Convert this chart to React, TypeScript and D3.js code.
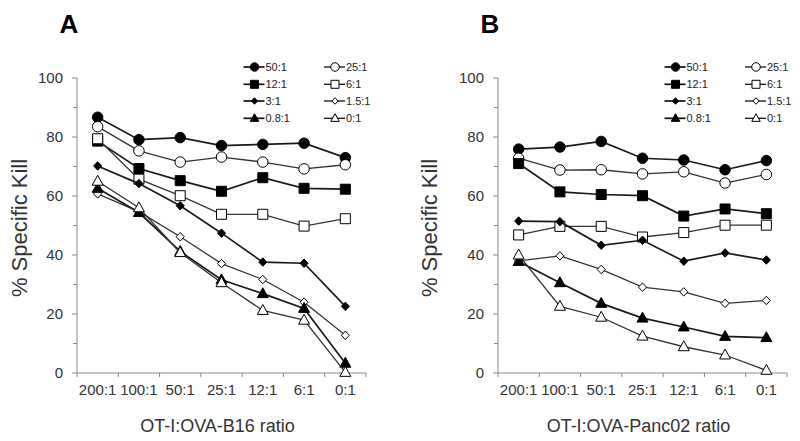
import React from "react";
import * as d3 from "d3";

const categories = ["200:1", "100:1", "50:1", "25:1", "12:1", "6:1", "0:1"];
const seriesNames = ["50:1", "25:1", "12:1", "6:1", "3:1", "1.5:1", "0.8:1", "0:1"];
const yTicks = [0, 20, 40, 60, 80, 100];

// Panel A: OT-I:OVA-B16
const a50 = [86.7, 79.1, 79.8, 77.1, 77.5, 77.9, 73.0];
const a25 = [83.5, 75.3, 71.5, 73.2, 71.5, 69.2, 70.6];
const a12 = [78.6, 69.3, 65.2, 61.6, 66.2, 62.6, 62.3];
const a6 = [79.4, 65.7, 60.1, 53.8, 53.8, 49.8, 52.3];
const a3 = [70.2, 64.2, 56.7, 47.4, 37.6, 37.2, 22.6];
const a15 = [60.7, 54.7, 46.2, 37.1, 31.7, 24.0, 12.8];
const a08 = [62.6, 54.4, 41.2, 31.6, 26.9, 21.9, 3.3];
const a0 = [65.0, 56.0, 40.8, 30.6, 21.2, 17.9, 0.2];

// Panel B: OT-I:OVA-Panc02
const b50 = [75.9, 76.6, 78.5, 72.8, 72.2, 68.9, 72.0];
const b25 = [72.8, 68.8, 68.9, 67.5, 68.2, 64.4, 67.3];
const b12 = [71.0, 61.4, 60.5, 60.1, 53.2, 55.6, 54.0];
const b6 = [46.8, 49.7, 49.7, 46.1, 47.6, 50.1, 50.1];
const b3 = [51.5, 51.3, 43.3, 45.0, 37.9, 40.7, 38.3];
const b15 = [38.0, 39.7, 35.1, 29.1, 27.5, 23.6, 24.6];
const b08 = [37.8, 30.6, 23.6, 18.6, 15.6, 12.4, 12.0];
const b0 = [40.0, 22.6, 18.9, 12.5, 8.9, 6.1, 0.9];

const panelAData = [a50, a25, a12, a6, a3, a15, a08, a0];
const panelBData = [b50, b25, b12, b6, b3, b15, b08, b0];

type Shape = "circle" | "square" | "diamond" | "triangle";
const shapes: Shape[] = ["circle", "circle", "square", "square", "diamond", "diamond", "triangle", "triangle"];
const filled = [true, false, true, false, true, false, true, false];

function markerPath(shape: Shape, cx: number, cy: number, s: number): string {
  const h = s / 2;
  if (shape === "circle") {
    const p = d3.path();
    p.moveTo(cx + h, cy);
    p.arc(cx, cy, h, 0, Math.PI * 2);
    p.closePath();
    return p.toString();
  }
  if (shape === "square") {
    return `M${cx - h},${cy - h}H${cx + h}V${cy + h}H${cx - h}Z`;
  }
  if (shape === "diamond") {
    const hw = h * 0.95;
    const hh = h;
    return `M${cx},${cy - hh}L${cx + hw},${cy}L${cx},${cy + hh}L${cx - hw},${cy}Z`;
  }
  const th = s * 0.9;
  return `M${cx},${cy - th * 0.6}L${cx + h},${cy + th * 0.4}L${cx - h},${cy + th * 0.4}Z`;
}

const mainSize: Record<Shape, number> = { circle: 10.5, square: 10, diamond: 8.5, triangle: 11 };
const legendSize: Record<Shape, number> = { circle: 8.5, square: 8, diamond: 6.5, triangle: 8.5 };

const FONT = "Arial, 'Liberation Sans', sans-serif";

function Panel({
  x0,
  title,
  data,
  xTitle,
  yLabelOffset,
}: {
  x0: number;
  title: string;
  data: number[][];
  xTitle: string;
  yLabelOffset: number;
}) {
  const width = 289;
  const x = d3.scaleBand<string>().domain(categories).range([x0, x0 + width]).padding(0);
  const y = d3.scaleLinear().domain([0, 100]).range([373, 78]);
  const bw = x.bandwidth();
  const cx = (c: string) => (x(c) as number) + bw / 2;
  const line = d3
    .line<[string, number]>()
    .x((d) => cx(d[0]))
    .y((d) => y(d[1]));
  const minor = d3.range(10, 100, 20);
  const boundaries = categories.map((c) => x(c) as number).concat([x0 + width]);
  const leg1 = x0 + 166.5;
  const leg2 = x0 + 247;
  const legRows = [67, 84.3, 101, 118.3];

  return (
    <g>
      <text x={x0 - 8} y={33} fontFamily={FONT} fontWeight="bold" fontSize={26} textAnchor="middle" fill="#000">
        {title}
      </text>
      <line x1={x0} x2={x0} y1={y(100)} y2={y(0)} stroke="#888" strokeWidth={1} />
      {yTicks.map((t) => (
        <g key={"yt" + t}>
          <line x1={x0 - 5} x2={x0} y1={y(t)} y2={y(t)} stroke="#888" strokeWidth={1} />
          <text x={x0 - 14} y={y(t)} dy="0.35em" textAnchor="end" fontFamily={FONT} fontSize={15} fill="#333">
            {t}
          </text>
        </g>
      ))}
      {minor.map((t) => (
        <line key={"ym" + t} x1={x0 - 4} x2={x0} y1={y(t)} y2={y(t)} stroke="#888" strokeWidth={1} />
      ))}
      <line x1={x0} x2={x0 + width} y1={y(0)} y2={y(0)} stroke="#888" strokeWidth={1} />
      {boundaries.map((b, i) => (
        <line key={"xb" + i} x1={b} x2={b} y1={y(0)} y2={y(0) + 4} stroke="#888" strokeWidth={1} />
      ))}
      {categories.map((c) => (
        <text key={"xl" + c} x={cx(c)} y={395} textAnchor="middle" fontFamily={FONT} fontSize={15} fill="#333">
          {c}
        </text>
      ))}
      <text x={x0 + width / 2 - 4} y={432} textAnchor="middle" fontFamily={FONT} fontSize={18} fill="#333">
        {xTitle}
      </text>
      <text
        transform={`translate(${x0 - yLabelOffset},228) rotate(-90)`}
        textAnchor="middle"
        fontFamily={FONT}
        fontSize={22}
        fill="#333"
      >
        % Specific Kill
      </text>
      {data.map((vals, si) => {
        const pts = categories.map((c, i) => [c, vals[i]] as [string, number]);
        const isFilled = filled[si];
        return (
          <g key={"s" + si}>
            <path d={line(pts) || ""} fill="none" stroke={isFilled ? "#1a1a1a" : "#333"} strokeWidth={isFilled ? 1.7 : 1.3} />
            {pts.map((p, i) => (
              <path
                key={i}
                d={markerPath(shapes[si], cx(p[0]), y(p[1]), mainSize[shapes[si]])}
                fill={isFilled ? "#000" : "#fff"}
                stroke="#000"
                strokeWidth={1}
              />
            ))}
          </g>
        );
      })}
      {seriesNames.map((name, si) => {
        const col = si % 2;
        const row = Math.floor(si / 2);
        const lx = col === 0 ? leg1 : leg2;
        const ly = legRows[row];
        const isFilled = filled[si];
        return (
          <g key={"lg" + si}>
            <line x1={lx} x2={lx + 21} y1={ly} y2={ly} stroke="#111" strokeWidth={isFilled ? 1.7 : 1.3} />
            <path
              d={markerPath(shapes[si], lx + 11, ly, legendSize[shapes[si]])}
              fill={isFilled ? "#000" : "#fff"}
              stroke="#000"
              strokeWidth={1}
            />
            <text x={lx + 22} y={ly} dy="0.36em" fontFamily={FONT} fontSize={11} fill="#222">
              {name}
            </text>
          </g>
        );
      })}
    </g>
  );
}

export default function App() {
  return (
    <svg
      width={800}
      height={441}
      viewBox="0 0 800 441"
      style={{ position: "absolute", left: 0, top: 0, background: "#fff" }}
    >
      <rect x={0} y={0} width={800} height={441} fill="#fff" />
      <Panel x0={77} title="A" data={panelAData} xTitle="OT-I:OVA-B16 ratio" yLabelOffset={50} />
      <Panel x0={498} title="B" data={panelBData} xTitle="OT-I:OVA-Panc02 ratio" yLabelOffset={61} />
    </svg>
  );
}
